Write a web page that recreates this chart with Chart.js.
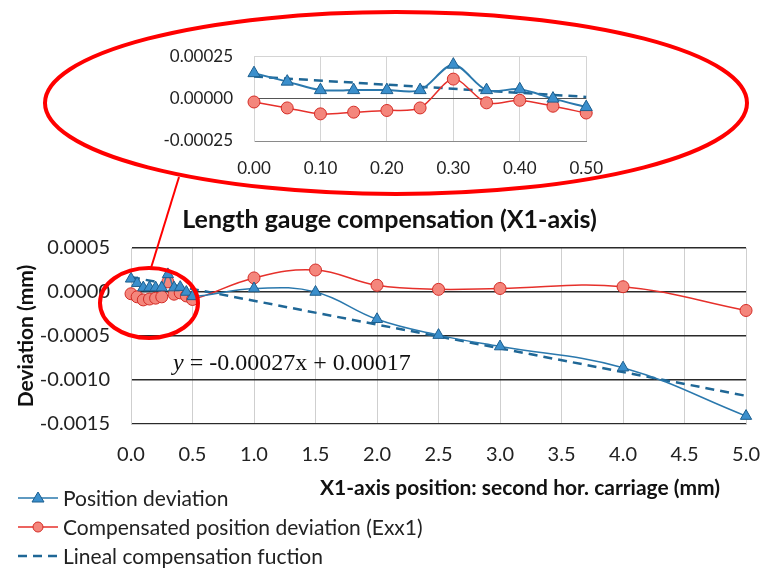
<!DOCTYPE html>
<html>
<head>
<meta charset="utf-8">
<script src="https://cdn.jsdelivr.net/npm/chart.js@4.4.1/dist/chart.umd.min.js"></script>
<style>
html, body { margin: 0; padding: 0; background: #fff; }
#wrap { position: relative; width: 779px; height: 569px; overflow: hidden; }
#mainChart { position: absolute; left: 0; top: 0; }
#zoomChart { position: absolute; left: 150px; top: 25px; }
</style>
</head>
<body>
<div id="wrap">
<canvas id="mainChart" width="779" height="569"></canvas>
<canvas id="zoomChart" width="470" height="170"></canvas>
</div>
<script>
// close-up range 0.00 - 0.50 mm (also the first points of the main chart)
const zoomX = [0.00, 0.05, 0.10, 0.15, 0.20, 0.25, 0.30, 0.35, 0.40, 0.45, 0.50];
const zoomPosition = [0.00015, 0.00010, 0.00005, 0.00005, 0.00005, 0.00005, 0.00020, 0.00005, 0.000055, 0.0, -0.00005];
const zoomCompensated = [-0.00002, -0.000055, -0.00009, -0.00008, -0.00007, -0.000055, 0.000115, -0.000025, -0.00001, -0.000045, -0.000085];
const zoomLinealX = [0.00, 0.50];
const zoomLinealY = [0.00013, 0.00001];

// rest of the travel
const wideX = [1.0, 1.5, 2.0, 2.5, 3.0, 4.0, 5.0];
const widePosition = [0.00004, 0.0, -0.00031, -0.00049, -0.00062, -0.00086, -0.00141];
const wideCompensated = [0.00016, 0.00025, 0.000076, 0.00003, 0.00004, 0.00006, -0.00021];
const linealX = [0, 5];
const linealY = [0.00017, -0.00118];

const seriesLabels = ['Position deviation', 'Compensated position deviation (Exx1)', 'Lineal compensation fuction'];

const blueLine = '#2a78ad';
const blueFill = '#3b8fcc';
const blueEdge = '#1d5f8f';
const redLine = '#e6302b';
const redFill = '#f4867c';
const redEdge = '#d42c26';
const dashColor = '#1f6796';
const FONT = 'Lato, "Open Sans", sans-serif';

function pts(xs, ys) {
    return xs.map((x, i) => ({ x: x, y: ys[i] }));
}

const allX = zoomX.concat(wideX);
const allPosition = zoomPosition.concat(widePosition);
const allCompensated = zoomCompensated.concat(wideCompensated);

// ellipses, connector, equation, x title and legend of the main chart
const annotations = {
    id: 'annotations',
    afterDraw(chart) {
        const ctx = chart.ctx;
        ctx.save();
        ctx.strokeStyle = '#ff0000';
        ctx.lineWidth = 4;
        ctx.beginPath();
        ctx.ellipse(396, 103, 351, 91, 0, 0, Math.PI * 2);
        ctx.stroke();
        ctx.beginPath();
        ctx.ellipse(149, 303, 49, 35, 0, 0, Math.PI * 2);
        ctx.stroke();
        ctx.lineWidth = 2;
        ctx.beginPath();
        ctx.moveTo(179, 177);
        ctx.lineTo(151, 268);
        ctx.stroke();

        // trend line equation
        ctx.fillStyle = '#111';
        ctx.textBaseline = 'alphabetic';
        ctx.font = 'italic 24px "Liberation Serif", serif';
        ctx.fillText('y', 173, 370);
        const w = ctx.measureText('y').width;
        ctx.font = '24px "Liberation Serif", serif';
        ctx.fillText(' = -0.00027x + 0.00017', 173 + w, 370);

        // x axis title
        ctx.font = 'bold 21px ' + FONT;
        ctx.textAlign = 'center';
        ctx.textBaseline = 'middle';
        ctx.fillText('X1-axis position: second hor. carriage (mm)', 520, 488);

        // legend, stacked at bottom left
        ctx.textAlign = 'left';
        ctx.font = '21px ' + FONT;
        chart.data.datasets.forEach((ds, i) => {
            const y = 498 + i * 29;
            ctx.strokeStyle = ds.borderColor;
            ctx.lineWidth = ds.borderWidth;
            ctx.setLineDash(ds.borderDash || []);
            ctx.beginPath();
            ctx.moveTo(18, y);
            ctx.lineTo(58, y);
            ctx.stroke();
            ctx.setLineDash([]);
            if (ds.pointStyle === 'triangle') {
                ctx.fillStyle = ds.pointBackgroundColor;
                ctx.strokeStyle = ds.pointBorderColor;
                ctx.lineWidth = 1;
                ctx.beginPath();
                ctx.moveTo(38, y - 6);
                ctx.lineTo(44, y + 4);
                ctx.lineTo(32, y + 4);
                ctx.closePath();
                ctx.fill();
                ctx.stroke();
            } else if (ds.pointStyle === 'circle') {
                ctx.fillStyle = ds.pointBackgroundColor;
                ctx.strokeStyle = ds.pointBorderColor;
                ctx.lineWidth = 1;
                ctx.beginPath();
                ctx.arc(38, y, 5, 0, Math.PI * 2);
                ctx.fill();
                ctx.stroke();
            }
            ctx.fillStyle = '#222';
            ctx.fillText(ds.label, 63, y + 1);
        });
        ctx.restore();
    }
};

const mainChart = new Chart(document.getElementById('mainChart'), {
    type: 'line',
    data: {
        datasets: [{
            label: seriesLabels[0],
            data: pts(allX, allPosition),
            borderColor: blueLine,
            borderWidth: 1.5,
            tension: 0.4,
            pointStyle: 'triangle',
            pointRadius: 6.5,
            pointBackgroundColor: blueFill,
            pointBorderColor: blueEdge,
            pointBorderWidth: 1
        }, {
            label: seriesLabels[1],
            data: pts(allX, allCompensated),
            borderColor: redLine,
            borderWidth: 1.5,
            tension: 0.4,
            pointStyle: 'circle',
            pointRadius: 6,
            pointBackgroundColor: redFill,
            pointBorderColor: redEdge,
            pointBorderWidth: 1
        }, {
            label: seriesLabels[2],
            data: pts(linealX, linealY),
            borderColor: dashColor,
            borderWidth: 2.5,
            borderDash: [9, 6],
            pointRadius: 0,
            tension: 0
        }]
    },
    options: {
        responsive: false,
        animation: false,
        clip: false,
        layout: { padding: { left: 14, right: 14, top: 0, bottom: 0 } },
        plugins: {
            legend: { display: false },
            tooltip: { enabled: false },
            title: {
                display: true,
                text: 'Length gauge compensation (X1-axis)',
                color: '#111',
                font: { family: FONT, size: 25, weight: 'bold' },
                padding: { top: 205, bottom: 13 }
            }
        },
        scales: {
            x: {
                type: 'linear',
                min: 0,
                max: 5,
                afterFit: (scale) => { scale.height = 145; },
                ticks: {
                    stepSize: 0.5,
                    padding: 19,
                    color: '#222',
                    font: { family: FONT, size: 20 },
                    callback: (v) => v.toFixed(1)
                },
                grid: { color: '#cfcfcf', lineWidth: 1, drawTicks: false },
                border: { color: '#cfcfcf' }
            },
            y: {
                min: -0.0015,
                max: 0.0005,
                afterFit: (scale) => { scale.width = 117; },
                ticks: {
                    stepSize: 0.0005,
                    padding: 21,
                    color: '#222',
                    font: { family: FONT, size: 20 },
                    callback: (v) => v.toFixed(4)
                },
                grid: { color: '#2a2a2a', lineWidth: 1.5, drawTicks: false },
                border: { color: '#cfcfcf' },
                title: {
                    display: true,
                    text: 'Deviation (mm)',
                    color: '#111',
                    font: { family: FONT, size: 21, weight: 'bold' },
                    padding: { top: 0, bottom: 0 }
                }
            }
        }
    },
    plugins: [annotations]
});

const zoomChart = new Chart(document.getElementById('zoomChart'), {
    type: 'line',
    data: {
        datasets: [{
            label: seriesLabels[0],
            data: pts(zoomX, zoomPosition),
            borderColor: blueLine,
            borderWidth: 2,
            tension: 0.3,
            pointStyle: 'triangle',
            pointRadius: 7,
            pointBackgroundColor: blueFill,
            pointBorderColor: blueEdge,
            pointBorderWidth: 1
        }, {
            label: seriesLabels[1],
            data: pts(zoomX, zoomCompensated),
            borderColor: redLine,
            borderWidth: 1.5,
            tension: 0.3,
            pointStyle: 'circle',
            pointRadius: 6,
            pointBackgroundColor: redFill,
            pointBorderColor: redEdge,
            pointBorderWidth: 1
        }, {
            label: seriesLabels[2],
            data: pts(zoomLinealX, zoomLinealY),
            borderColor: dashColor,
            borderWidth: 2.5,
            borderDash: [9, 6],
            pointRadius: 0,
            tension: 0
        }]
    },
    options: {
        responsive: false,
        animation: false,
        clip: false,
        layout: { padding: { left: 0, right: 19, top: 20, bottom: 0 } },
        plugins: {
            legend: { display: false },
            tooltip: { enabled: false }
        },
        scales: {
            x: {
                type: 'linear',
                min: 0,
                max: 0.5,
                afterFit: (scale) => { scale.height = 54; },
                ticks: {
                    stepSize: 0.1,
                    padding: 17,
                    color: '#222',
                    font: { family: FONT, size: 17 },
                    callback: (v) => v.toFixed(2)
                },
                grid: { color: '#d4d4d4', lineWidth: 1, drawTicks: false },
                border: { color: '#8a8a8a' }
            },
            y: {
                min: -0.00025,
                max: 0.00025,
                afterFit: (scale) => { scale.width = 104; },
                ticks: {
                    stepSize: 0.00025,
                    padding: 21,
                    color: '#222',
                    font: { family: FONT, size: 17 },
                    callback: (v) => v.toFixed(5)
                },
                grid: {
                    drawTicks: false,
                    lineWidth: 1,
                    color: (c) => c.tick && c.tick.value === 0 ? '#555' : '#d4d4d4'
                },
                border: { color: '#d4d4d4' }
            }
        }
    }
});
</script>
</body>
</html>
